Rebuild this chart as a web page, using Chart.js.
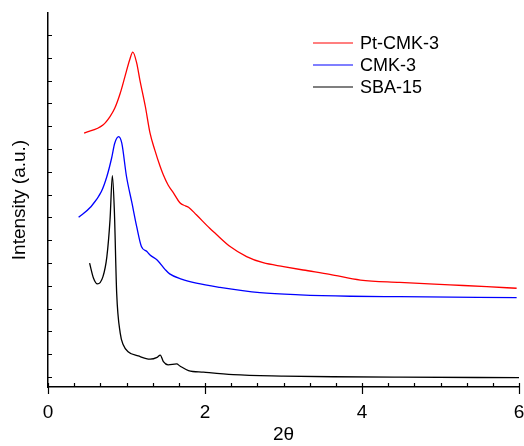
<!DOCTYPE html>
<html lang="en">
<head>
  <meta charset="UTF-8" />
  <title>XRD - Pt-CMK-3, CMK-3, SBA-15</title>
  <script src="https://cdn.jsdelivr.net/npm/chart.js"></script>
  <style>
    html, body { margin: 0; padding: 0; background: #fff; }
  </style>
</head>
<body>

<canvas id="grafico" width="524" height="446"></canvas>

<script>
  // 2theta / intensidade (u.a.)
  const ptTheta = [0.46, 0.70, 0.79, 0.85, 0.92, 0.98, 1.04, 1.08, 1.13, 1.17, 1.24, 1.30, 1.36, 1.43, 1.47, 1.53, 1.60, 1.68, 1.75, 1.79, 1.89, 2.06, 2.13, 2.32, 2.53, 2.74, 3.00, 3.25, 3.59, 3.98, 4.48, 5.12, 5.59, 5.97];
  const ptInt   = [1069, 1105, 1142, 1178, 1244, 1317, 1390, 1424, 1376, 1303, 1186, 1069, 996, 922, 886, 842, 806, 764, 750, 744, 711, 652, 630, 572, 528, 501, 484, 469, 450, 425, 415, 404, 396, 389];

  const cmkTheta = [0.39, 0.54, 0.68, 0.75, 0.81, 0.85, 0.90, 0.94, 1.00, 1.07, 1.13, 1.19, 1.26, 1.30, 1.39, 1.49, 1.55, 1.70, 1.89, 2.19, 2.70, 3.21, 3.85, 4.48, 5.97];
  const cmkInt   = [700, 744, 813, 879, 959, 1025, 1054, 1025, 879, 762, 659, 572, 550, 535, 513, 472, 452, 429, 411, 393, 370, 360, 354, 352, 348];

  const sbaTheta = [0.53, 0.58, 0.63, 0.70, 0.75, 0.79, 0.82, 0.845, 0.875, 0.92, 0.96, 1.02, 1.15, 1.30, 1.39, 1.43, 1.47, 1.53, 1.64, 1.68, 1.79, 1.98, 2.36, 3.00, 3.63, 4.48, 6.00];
  const sbaInt   = [499, 433, 408, 440, 528, 689, 883, 732, 367, 192, 140, 111, 92, 78, 86, 96, 67, 53, 57, 48, 28, 21, 10, 4, 1, -1, -3];

  const series = ['Pt-CMK-3', 'CMK-3', 'SBA-15'];
  const cores = ['#ff0000', '#0000ff', '#000000'];

  const xRotulos = [0, 2, 4, 6];
  const xPassoMenor = 1 / 3;
  const yPasso = 100;
  const yMarcaMax = 1500;

  const fonte = '"Liberation Sans", Arial, sans-serif';

  function pontos(xs, ys) {
    return xs.map((x, i) => ({ x: x, y: ys[i] }));
  }

  function ehRotulo(v) {
    return xRotulos.some(r => Math.abs(r - v) < 1e-6);
  }

  // marcas dos eixos e legenda desenhadas por cima
  const marcasEixos = {
    id: 'marcasEixos',
    afterDraw(chart) {
      const { ctx, chartArea, scales } = chart;
      ctx.save();
      ctx.strokeStyle = '#000';
      ctx.lineWidth = 1.2;
      ctx.beginPath();
      scales.x.ticks.forEach(t => {
        const px = Math.round(scales.x.getPixelForValue(t.value)) + 0.5;
        ctx.moveTo(px, chartArea.bottom + (ehRotulo(t.value) ? 7 : 0));
        ctx.lineTo(px, chartArea.bottom - 4);
      });
      scales.y.ticks.forEach(t => {
        const py = Math.round(scales.y.getPixelForValue(t.value)) + 0.5;
        ctx.moveTo(chartArea.left, py);
        ctx.lineTo(chartArea.left + 4, py);
      });
      ctx.stroke();

      // legenda
      ctx.font = '18px ' + fonte;
      ctx.textBaseline = 'middle';
      ctx.fillStyle = '#000';
      chart.data.datasets.forEach((ds, i) => {
        const y = chartArea.top + 30 + i * 22;
        const x0 = chartArea.left + 265;
        ctx.strokeStyle = ds.borderColor;
        ctx.lineWidth = 1.2;
        ctx.beginPath();
        ctx.moveTo(x0, y);
        ctx.lineTo(x0 + 40, y);
        ctx.stroke();
        ctx.fillText(ds.label, x0 + 47, y + 1);
      });
      ctx.restore();
    }
  };

  const ctx = document.getElementById('grafico').getContext('2d');
  const grafico = new Chart(ctx, {
    type: 'line',
    data: {
      datasets: [
        { label: series[0], data: pontos(ptTheta, ptInt), borderColor: cores[0] },
        { label: series[1], data: pontos(cmkTheta, cmkInt), borderColor: cores[1] },
        { label: series[2], data: pontos(sbaTheta, sbaInt), borderColor: cores[2] }
      ]
    },
    options: {
      responsive: false,
      animation: false,
      devicePixelRatio: 1,
      elements: {
        point: { radius: 0 },
        line: { borderWidth: 1.3, cubicInterpolationMode: 'monotone', fill: false }
      },
      layout: { padding: { top: 13, right: 5, left: 0, bottom: 0 } },
      plugins: {
        legend: { display: false },
        tooltip: { enabled: false }
      },
      scales: {
        x: {
          type: 'linear',
          min: 0,
          max: 6,
          afterBuildTicks: scale => {
            const lista = [];
            for (let k = 0; k <= 18; k++) lista.push({ value: k * xPassoMenor });
            scale.ticks = lista;
          },
          afterFit: scale => {
            scale.height = 59;
            scale.paddingLeft = 0;
            scale.paddingRight = 0;
          },
          grid: { display: false, drawTicks: false },
          border: { display: true, color: '#000', width: 1.5 },
          ticks: {
            autoSkip: false,
            maxRotation: 0,
            padding: 14,
            color: '#000',
            font: { family: fonte, size: 19 },
            callback: v => ehRotulo(v) ? String(Math.round(v)) : ''
          },
          title: {
            display: true,
            text: '2θ',
            color: '#000',
            font: { family: fonte, size: 19 },
            padding: { top: 2, bottom: 0 }
          }
        },
        y: {
          type: 'linear',
          min: -44,
          max: 1596,
          afterBuildTicks: scale => {
            const lista = [];
            for (let v = 0; v <= yMarcaMax; v += yPasso) lista.push({ value: v });
            scale.ticks = lista;
          },
          afterFit: scale => { scale.width = 48; },
          grid: { display: false, drawTicks: false },
          border: { display: true, color: '#000', width: 1.5 },
          ticks: { display: false },
          title: {
            display: true,
            text: 'Intensity (a.u.)',
            color: '#000',
            font: { family: fonte, size: 19 },
            padding: { top: 8, bottom: 0 }
          }
        }
      }
    },
    plugins: [marcasEixos]
  });
</script>

</body>
</html>
